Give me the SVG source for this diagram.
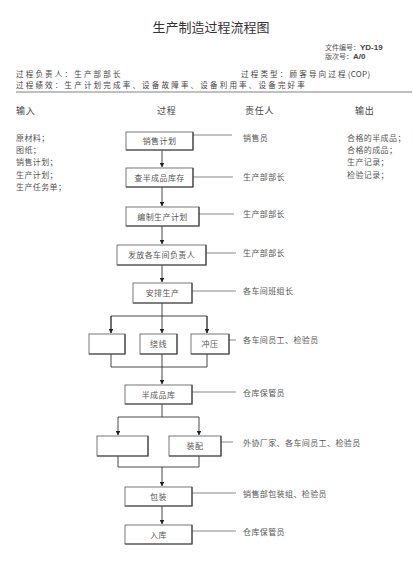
<svg xmlns="http://www.w3.org/2000/svg" width="413" height="572" viewBox="0 0 413 572">
<defs>
<style>
text{font-family:"Noto Sans CJK SC","Liberation Sans",sans-serif;fill:#555;}
.t{font-size:13px;fill:#333;}
.d{font-size:7px;}
.s{font-size:8px;letter-spacing:0.4px;}
.b{font-size:8px;letter-spacing:0.4px;text-anchor:middle;}
.h{font-size:7.5px;letter-spacing:2.2px;fill:#444;}
.hh{font-size:9px;letter-spacing:0.8px;fill:#444;}
.box{fill:#fff;stroke:#555;stroke-width:0.8;}
.sh{fill:none;stroke:#444;stroke-width:1.2;}
.ln{fill:none;stroke:#333;stroke-width:0.9;}
.rl{fill:none;stroke:#555;stroke-width:0.7;}
</style>
<marker id="ah" viewBox="0 0 6 6" refX="5.5" refY="3" markerWidth="5" markerHeight="5" orient="auto">
<path d="M0,0 L6,3 L0,6 Z" fill="#222"/>
</marker>
</defs>
<rect width="413" height="572" fill="#fff"/>
<text class="t" x="211" y="32" text-anchor="middle">生产制造过程流程图</text>
<text class="d" x="325" y="50">文件编号：<tspan font-family="Liberation Sans" font-weight="bold" fill="#444" font-size="8">YD-19</tspan></text>
<text class="d" x="325" y="59">版次号：<tspan font-family="Liberation Sans" font-weight="bold" fill="#444" font-size="8">A/0</tspan></text>
<text class="h" x="16" y="76.5">过程负责人：生产部部长</text>
<text class="h" x="241" y="76.5">过程类型：顾客导向过程<tspan font-size="8" letter-spacing="0.3">(COP)</tspan></text>
<text class="h" x="16" y="87.5">过程绩效：生产计划完成率、设备故障率、设备利用率、设备完好率</text>
<line x1="16" y1="92" x2="412" y2="92" stroke="#aaa" stroke-width="1.3"/>
<text class="hh" x="16" y="114">输入</text>
<text class="hh" x="157" y="114">过程</text>
<text class="hh" x="245" y="114">责任人</text>
<text class="hh" x="355" y="114">输出</text>
<g id="inputs">
<text class="s" x="16" y="141">原材料；</text>
<text class="s" x="16" y="153">图纸；</text>
<text class="s" x="16" y="165">销售计划；</text>
<text class="s" x="16" y="177.5">生产计划；</text>
<text class="s" x="16" y="190">生产任务单；</text>
</g>
<g id="outputs">
<text class="s" x="347" y="141">合格的半成品；</text>
<text class="s" x="347" y="153">合格的成品；</text>
<text class="s" x="347" y="165">生产记录；</text>
<text class="s" x="347" y="177.5">检验记录；</text>
</g>
<g id="connectors">
<path class="ln" d="M162,150 V167" marker-end="url(#ah)"/>
<path class="ln" d="M162,187 V206" marker-end="url(#ah)"/>
<path class="ln" d="M162,226 V244" marker-end="url(#ah)"/>
<path class="ln" d="M162,265 V282" marker-end="url(#ah)"/>
<path class="ln" d="M162,303 V333" marker-end="url(#ah)"/>
<path class="ln" d="M111,333 V316 H207 V333"/>
<path class="ln" d="M111,316 V333" marker-end="url(#ah)"/>
<path class="ln" d="M207,316 V333" marker-end="url(#ah)"/>
<path class="ln" d="M111,354 V367 H207 V354 M162,354 V384" marker-end="url(#ah)"/>
<path class="ln" d="M162,404 V417 H118 V435" marker-end="url(#ah)"/>
<path class="ln" d="M162,417 H199 V435" marker-end="url(#ah)"/>
<path class="ln" d="M118,456 V467 H199 V456 M162,467 V486" marker-end="url(#ah)"/>
<path class="ln" d="M162,506 V524" marker-end="url(#ah)"/>
<path class="rl" d="M193,135 H232 M193,177 H233 M199,214 H234 M206,253 H236 M192,291 H236 M229,340 H236 M192,392 H236 M221,442 H233 M192,493 H236 M192,531 H236"/>
</g>
<g id="n1"><rect class="box" x="126" y="132" width="67" height="18"/><path class="sh" d="M193,132 V150 H126"/><text class="b" x="159.5" y="144">销售计划</text></g>
<g id="n2"><rect class="box" x="126" y="168" width="67" height="19"/><path class="sh" d="M193,168 V187 H126"/><text class="b" x="159.5" y="180.5">查半成品库存</text></g>
<g id="n3"><rect class="box" x="126" y="207" width="73" height="19"/><path class="sh" d="M199,207 V226 H126"/><text class="b" x="162.5" y="219.5">编制生产计划</text></g>
<g id="n4"><rect class="box" x="117" y="245" width="89" height="20"/><path class="sh" d="M206,245 V265 H117"/><text class="b" x="161.5" y="258">发放各车间负责人</text></g>
<g id="n5"><rect class="box" x="133" y="283" width="59" height="20"/><path class="sh" d="M192,283 V303 H133"/><text class="b" x="162.5" y="296">安排生产</text></g>
<g id="n6"><rect class="box" x="89" y="334" width="36" height="20"/><path class="sh" d="M125,334 V354 H89"/></g>
<g id="n7"><rect class="box" x="140" y="334" width="37" height="20"/><path class="sh" d="M177,334 V354 H140"/><text class="b" x="158.5" y="347">绕线</text></g>
<g id="n8"><rect class="box" x="191" y="334" width="38" height="20"/><path class="sh" d="M229,334 V354 H191"/><text class="b" x="210" y="347">冲压</text></g>
<g id="n9"><rect class="box" x="125" y="385" width="67" height="19"/><path class="sh" d="M192,385 V404 H125"/><text class="b" x="158.5" y="397.5">半成品库</text></g>
<g id="n10"><rect class="box" x="97" y="436" width="51" height="20"/><path class="sh" d="M148,436 V456 H97"/></g>
<g id="n11"><rect class="box" x="169" y="436" width="52" height="20"/><path class="sh" d="M221,436 V456 H169"/><text class="b" x="195" y="449">装配</text></g>
<g id="n12"><rect class="box" x="125" y="487" width="67" height="19"/><path class="sh" d="M192,487 V506 H125"/><text class="b" x="158.5" y="499.5">包装</text></g>
<g id="n13"><rect class="box" x="125" y="525" width="67" height="19"/><path class="sh" d="M192,525 V544 H125"/><text class="b" x="158.5" y="537.5">入库</text></g>
<g id="roles">
<text class="s" x="243" y="141">销售员</text>
<text class="s" x="243" y="180">生产部部长</text>
<text class="s" x="243" y="217">生产部部长</text>
<text class="s" x="243" y="256">生产部部长</text>
<text class="s" x="243" y="294">各车间班组长</text>
<text class="s" x="243" y="343">各车间员工、检验员</text>
<text class="s" x="243" y="395.5">仓库保管员</text>
<text class="s" x="243" y="445.5">外协厂家、各车间员工、检验员</text>
<text class="s" x="243" y="496.5">销售部包装组、检验员</text>
<text class="s" x="243" y="534.5">仓库保管员</text>
</g>
</svg>
